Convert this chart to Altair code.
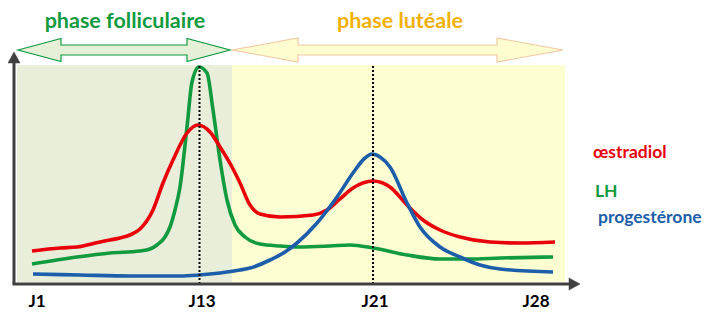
import altair as alt
import pandas as pd

# ---- data (x: position along the cycle axis, y: hormone level, arbitrary units)
oestradiol_x = [18, 46, 63, 86, 96, 106, 116, 126, 139, 149, 159, 173, 184, 196, 206, 218, 226, 236, 246,
                266, 299, 313, 326, 339, 359, 376, 393, 409, 426, 446, 476, 506, 541]
oestradiol_y = [33, 36, 37, 42, 44, 46, 49, 55, 74, 101, 124, 151, 159, 152, 137, 117, 101, 79, 70,
                67, 69, 74, 85, 96, 103, 97, 79, 64, 54, 47, 42, 41, 42]

lh_x = [18, 63, 96, 126, 136, 143, 151, 156, 161, 166, 173, 178, 185, 193, 199, 206, 213, 221, 231,
        246, 266, 286, 316, 336, 359, 393, 426, 456, 486, 539]
lh_y = [20, 27, 31, 33, 35, 39, 47, 57, 74, 97, 157, 202, 217, 211, 174, 124, 84, 59, 47,
        40, 38, 37, 38, 39, 36, 29, 25, 25, 26, 27]

prog_x = [19, 66, 116, 166, 185, 206, 226, 236, 256, 271, 283, 303, 323, 339, 351, 358, 366, 376,
          393, 406, 426, 446, 466, 486, 539]
prog_y = [10, 9, 8, 8, 9, 11, 14, 16, 24, 32, 41, 61, 87, 111, 126, 130, 127, 117,
          81, 57, 37, 27, 19, 15, 12]

day_labels = ["J1", "J13", "J21", "J28"]
day_pos = [23, 188, 361, 522]
marker_days = [185.5, 359]          # dotted lines at J13 and J21

phase_labels = ["phase folliculaire", "phase lutéale"]
phase_start = [3, 218]
phase_end = [218, 551]
phase_label_pos = [111, 386]
phase_arrow_start = [4, 218]
phase_arrow_end = [216, 549]

legend_labels = ["œstradiol", "LH", "progestérone"]
legend_x = [579, 581, 584]
legend_y = [131, 92, 66]

RED = "#e8000b"
GREEN = "#119a3e"
BLUE = "#1c5eaa"
ORANGE = "#f2b000"
AXIS = "#404040"
BG_GREEN = "#e9eedb"
BG_YELLOW = "#fefed3"

legend_colors = [RED, GREEN, BLUE]
phase_text_colors = [GREEN, ORANGE]
phase_fill = [BG_GREEN, BG_YELLOW]
phase_arrow_fill = ["#e6efd8", "#fefdd0"]
phase_arrow_stroke = [GREEN, "#f3c8a0"]

FONT = "Lato"
xs = alt.Scale(domain=[0, 566], nice=False, zero=False)
ys = alt.Scale(domain=[0, 232], nice=False, zero=False)
TOP = 219

# ---- backgrounds
bg_df = pd.DataFrame({"x": phase_start, "x2": phase_end, "y": [2, 2], "y2": [TOP, TOP], "fill": phase_fill})
bg = alt.Chart(bg_df).mark_rect().encode(
    x=alt.X("x:Q", scale=xs, axis=None), x2="x2:Q",
    y=alt.Y("y:Q", scale=ys, axis=None), y2="y2:Q",
    color=alt.Color("fill:N", scale=None),
)

def curve(xv, yv, color):
    df = pd.DataFrame({"x": xv, "y": yv})
    return alt.Chart(df).mark_line(color=color, strokeWidth=3.6, interpolate="monotone").encode(
        x=alt.X("x:Q", scale=xs, axis=None), y=alt.Y("y:Q", scale=ys, axis=None))

lh = curve(lh_x, lh_y, GREEN)
oe = curve(oestradiol_x, oestradiol_y, RED)
pr = curve(prog_x, prog_y, BLUE)

# ---- dotted markers
mk_df = pd.DataFrame({"x": marker_days, "y": [0, 0], "y2": [TOP, TOP]})
markers = alt.Chart(mk_df).mark_rule(color="black", strokeWidth=2, strokeDash=[2, 2]).encode(
    x=alt.X("x:Q", scale=xs, axis=None), y=alt.Y("y:Q", scale=ys, axis=None), y2="y2:Q")

# ---- axes drawn as arrows
ax_df = pd.DataFrame({"x": [-1.5, 0], "x2": [556, 0], "y": [0, 0], "y2": [0, 222]})
axes = alt.Chart(ax_df).mark_rule(color=AXIS, strokeWidth=3).encode(
    x=alt.X("x:Q", scale=xs, axis=None), x2="x2:Q",
    y=alt.Y("y:Q", scale=ys, axis=None), y2="y2:Q")

up_head = alt.Chart(pd.DataFrame({"x": [0], "y": [226.5]})).mark_point(
    shape="M0,-1 L1.1,1 L-1.1,1 Z", size=121, filled=True, fill=AXIS, stroke=AXIS,
    strokeWidth=0.5, opacity=1).encode(
    x=alt.X("x:Q", scale=xs, axis=None), y=alt.Y("y:Q", scale=ys, axis=None))
right_head = alt.Chart(pd.DataFrame({"x": [560.5], "y": [0]})).mark_point(
    shape="M1,0 L-1,-1.1 L-1,1.1 Z", size=121, filled=True, fill=AXIS, stroke=AXIS,
    strokeWidth=0.5, opacity=1).encode(
    x=alt.X("x:Q", scale=xs, axis=None), y=alt.Y("y:Q", scale=ys, axis=None))

# ---- day labels
days = alt.Chart(pd.DataFrame({"x": day_pos, "y": [-17.5] * 4, "t": day_labels})).mark_text(
    font=FONT, fontWeight="bold", fontSize=17, color="black", baseline="middle", align="center").encode(
    x=alt.X("x:Q", scale=xs, axis=None), y=alt.Y("y:Q", scale=ys, axis=None), text="t:N")

# ---- phase double arrows
def dbl_arrow(x0, x1, head_len, head_half, shaft_half, fill, stroke):
    half = (x1 - x0) / 2.0
    b = 1 - head_len / half
    h = head_half / half
    s = shaft_half / half
    path = (f"M-1,0 L{-b:.4f},{-h:.4f} L{-b:.4f},{-s:.4f} L{b:.4f},{-s:.4f} L{b:.4f},{-h:.4f} "
            f"L1,0 L{b:.4f},{h:.4f} L{b:.4f},{s:.4f} L{-b:.4f},{s:.4f} L{-b:.4f},{h:.4f} Z")
    return alt.Chart(pd.DataFrame({"x": [(x0 + x1) / 2.0], "y": [234]})).mark_point(
        shape=path, size=(2 * half) ** 2, filled=True, fill=fill, stroke=stroke,
        strokeWidth=1.2, opacity=1).encode(
        x=alt.X("x:Q", scale=xs, axis=None), y=alt.Y("y:Q", scale=ys, axis=None))

arrow_g = dbl_arrow(phase_arrow_start[0], phase_arrow_end[0], 43, 11.5, 5,
                    phase_arrow_fill[0], phase_arrow_stroke[0])
arrow_y = dbl_arrow(phase_arrow_start[1], phase_arrow_end[1], 66, 12, 5,
                    phase_arrow_fill[1], phase_arrow_stroke[1])

ph_df = pd.DataFrame({"x": phase_label_pos, "y": [256.5, 256.5], "t": phase_labels, "c": phase_text_colors})
phases = alt.Chart(ph_df).mark_text(
    font=FONT, fontWeight="bold", fontSize=21.5, baseline="alphabetic", align="center").encode(
    x=alt.X("x:Q", scale=xs, axis=None), y=alt.Y("y:Q", scale=ys, axis=None), text="t:N",
    color=alt.Color("c:N", scale=None))

lg_df = pd.DataFrame({"x": legend_x, "y": legend_y, "t": legend_labels, "c": legend_colors})
legend = alt.Chart(lg_df).mark_text(
    font=FONT, fontWeight="bold", fontSize=17.5, baseline="middle", align="left").encode(
    x=alt.X("x:Q", scale=xs, axis=None), y=alt.Y("y:Q", scale=ys, axis=None), text="t:N",
    color=alt.Color("c:N", scale=None))

chart = alt.layer(
    bg, lh, oe, pr, markers, axes, up_head, right_head, days, arrow_y, arrow_g, phases, legend
).properties(
    width=566, height=232, autosize="none",
    padding={"left": 6, "top": 44, "right": 126, "bottom": 28},
    background="white",
).configure_view(stroke=None)

chart.save("out.html", embed_options={"renderer": "svg", "actions": False})
